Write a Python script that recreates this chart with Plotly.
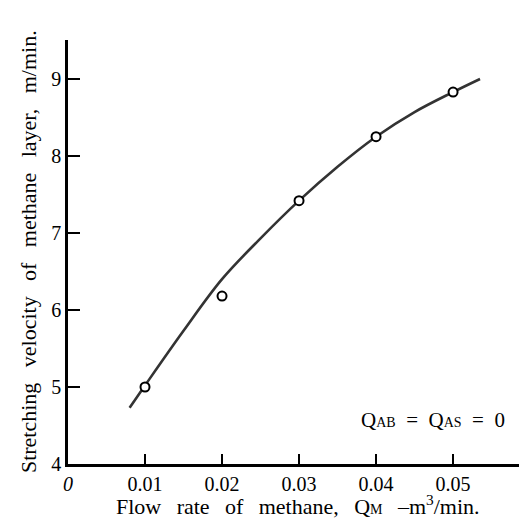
import plotly.graph_objects as go

# measured points
flow_pts = [0.01, 0.02, 0.03, 0.04, 0.05]
vel_pts = [5.0, 6.18, 7.42, 8.25, 8.83]

# fitted curve
flow_curve = [0.008, 0.01, 0.015, 0.02, 0.025, 0.03, 0.035, 0.04, 0.045, 0.05, 0.0535]
vel_curve = [4.73, 5.02, 5.73, 6.40, 6.93, 7.42, 7.86, 8.25, 8.57, 8.83, 9.0]

x_ticks = [0, 0.01, 0.02, 0.03, 0.04, 0.05]
x_labels = ["<i>0</i>", "0.01", "0.02", "0.03", "0.04", "0.05"]
y_ticks = [4, 5, 6, 7, 8, 9]

FONT = "Liberation Serif, Times New Roman, serif"
GAP = "\u2002\u2009"
EN = "\u2002"

x_title = GAP.join(["Flow", "rate", "of", "methane,",
                    "Q<span style='font-size:14px'>M</span>", "\u2013m<sup>3</sup>/min."])
y_title = GAP.join(["Stretching", "velocity", "of", "methane", "layer,", "m/min."])
note = EN.join(["Q<span style='font-size:14px'>AB</span>", "=",
                "Q<span style='font-size:14px'>AS</span>", "=", "0"])

fig = go.Figure()
fig.add_trace(go.Scatter(x=flow_curve, y=vel_curve, mode="lines",
                         line=dict(color="#333333", width=2.6, shape="spline"),
                         hoverinfo="skip"))
fig.add_trace(go.Scatter(x=flow_pts, y=vel_pts, mode="markers",
                         marker=dict(symbol="circle", size=9, color="white",
                                     line=dict(color="black", width=2))))

fig.update_layout(
    width=519, height=514,
    margin=dict(l=60, r=0, t=32, b=58),
    paper_bgcolor="white", plot_bgcolor="white",
    showlegend=False,
    font=dict(family=FONT, color="black", size=20),
    xaxis=dict(range=[0, 0.0596], tickvals=x_ticks, ticktext=x_labels,
               ticks="inside", ticklen=10, tickwidth=1.5, tickcolor="black",
               showline=True, linecolor="black", linewidth=2.5,
               showgrid=False, zeroline=False, automargin=False,
               tickfont=dict(family=FONT, size=20)),
    yaxis=dict(range=[4, 9.506], tickvals=y_ticks,
               ticks="inside", ticklen=12, tickwidth=1.5, tickcolor="black",
               showline=True, linecolor="black", linewidth=2.5,
               showgrid=False, zeroline=False, automargin=False,
               tickfont=dict(family=FONT, size=20)),
)

fig.add_annotation(x=0.5, y=-0.0967, xref="paper", yref="paper",
                   xanchor="center", yanchor="middle", showarrow=False,
                   text=x_title, font=dict(family=FONT, size=22, color="black"))
fig.add_annotation(x=-0.087, y=0.50, xref="paper", yref="paper",
                   xanchor="center", yanchor="middle", showarrow=False, textangle=-90,
                   text=y_title, font=dict(family=FONT, size=22, color="black"))
fig.add_annotation(x=0.057, y=4.57, xref="x", yref="y", xanchor="right", yanchor="middle",
                   showarrow=False, text=note,
                   font=dict(family=FONT, size=21, color="black"))

fig.write_html("out.html")
